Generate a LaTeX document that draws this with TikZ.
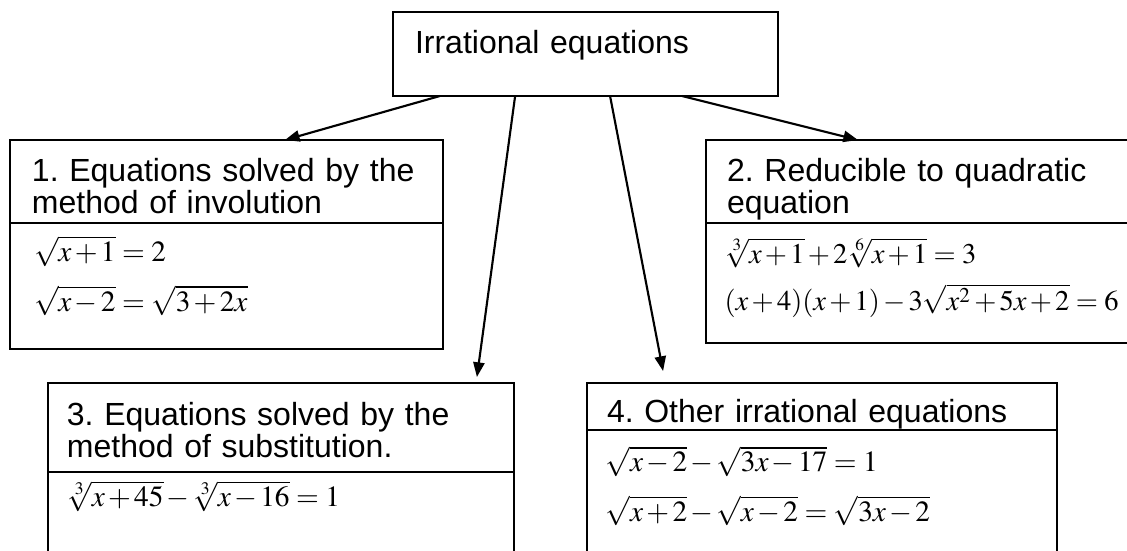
\documentclass[tikz,border=0pt]{standalone}
\usepackage{mathptmx}
\usepackage[no-math]{fontspec}
\newfontfamily\arialfont{Liberation Sans}
\usepackage{tikz}
\usetikzlibrary{arrows.meta,positioning}
\newcommand\headfont{\arialfont\fontsize{12}{12}\selectfont\frenchspacing}
\newcommand\eqfont{\fontsize{11}{18.5}\selectfont\medmuskip=2mu\thickmuskip=4mu}
\tikzset{
  framebox/.style={
    rectangle, draw, line width=0.8pt, outer sep=0pt,
    inner ysep=0pt, align=left, anchor=north west
  },
  headbox/.style={
    framebox, font=\headfont
  },
  eqbox/.style={
    framebox, font=\eqfont, inner xsep=7pt
  },
  linkarrow/.style={
    -{Triangle[length=5.5pt,width=4.2pt]}, line width=0.8pt
  },
}

\begin{document}
\begin{tikzpicture}[x=0.375pt, y=-0.375pt]
  \useasboundingbox (0,0) rectangle (1127,551);

  % Root
  \node[headbox, inner xsep=8.25pt, text width=127.9pt,
        text height=15.4pt, text depth=16.1pt] (irr) at (393,12)
        {Irrational equations};

  % 1. Involution
  \node[headbox, inner xsep=8.25pt, text width=145.9pt,
        text height=15.75pt, text depth=15.4pt] (inv) at (10,140)
        {1. Equations solved by the\\method of involution};
  \node[eqbox, inner xsep=9pt, text width=144.4pt,
        text height=14.5pt, text depth=32.75pt] (inv-eq) at (inv.south west)
        {$\sqrt{x+1}=2$\\$\sqrt{x-2}=\sqrt{3+2x}$};

  % 2. Quadratic
  \node[headbox, inner xsep=7.9pt, text width=170pt,
        text height=15.75pt, text depth=15.4pt] (quad) at (706,140)
        {2. Reducible to quadratic\\equation};
  \node[eqbox, font={\eqfont\fontsize{10.7}{17.8}\selectfont}, text width=171.8pt,
        text height=15pt, text depth=30pt] (quad-eq) at (quad.south west)
        {$\sqrt[3]{x+1}+2\sqrt[6]{x+1}=3$\\$(x+4)(x+1)-3\sqrt{x^2+5x+2}=6$};

  % 3. Substitution
  \node[headbox, inner xsep=7.1pt, text width=160.5pt,
        text height=16.1pt, text depth=17.25pt] (sub) at (48,383)
        {3. Equations solved by the\\method of substitution.};
  \node[eqbox, text width=160.75pt,
        text height=13.1pt, text depth=34.9pt] (sub-eq) at (sub.south west)
        {$\sqrt[3]{x+45}-\sqrt[3]{x-16}=1$};

  % 4. Other
  \node[headbox, inner xsep=7.5pt, text width=161.25pt,
        text height=15pt, text depth=2.6pt] (oth) at (587,383)
        {4. Other irrational equations};
  \node[eqbox, text width=162.25pt,
        text height=15.75pt, text depth=48pt] (oth-eq) at (oth.south west)
        {$\sqrt{x-2}-\sqrt{3x-17}=1$\\$\sqrt{x+2}-\sqrt{x-2}=\sqrt{3x-2}$};

  % Links
  \draw[linkarrow] ([xshift=-54.6pt]irr.south) -- ([xshift=21.9pt]inv.north);
  \draw[linkarrow] ([xshift=-26.4pt]irr.south) -- ([xshift=73.5pt,yshift=2.25pt]sub.north);
  \draw[linkarrow] ([xshift=9.2pt]irr.south) -- ([xshift=-59.6pt,yshift=4.5pt]oth.north);
  \draw[linkarrow] ([xshift=36.2pt]irr.south) -- ([xshift=-35.9pt]quad.north);
\end{tikzpicture}
\end{document}
